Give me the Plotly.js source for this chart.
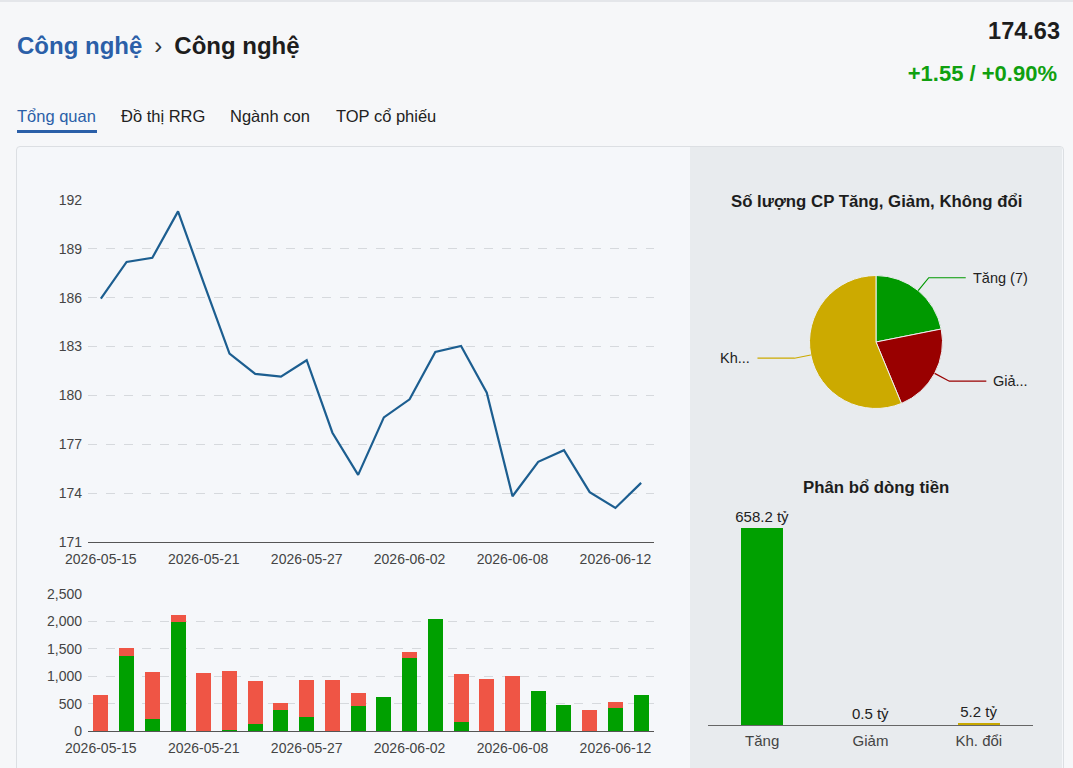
<!DOCTYPE html>
<html><head><meta charset="utf-8">
<script src="https://cdn.plot.ly/plotly-3.0.1.min.js"></script>
<style>
html,body{margin:0;padding:0;width:1073px;height:768px;overflow:hidden;background:#f6f7f9;font-family:"Liberation Sans",Arial,sans-serif;}
#topline{position:absolute;left:0;top:0;width:1073px;height:2px;background:#e4e6ea;}
#crumb{position:absolute;left:17px;top:32px;font-size:24px;font-weight:bold;white-space:nowrap;}
#crumb .a{color:#2b5fa8;} #crumb .s{color:#333;font-weight:normal;margin:0 12px 0 12px;} #crumb .b{color:#1d1d1d;}
#price{position:absolute;right:13px;top:18px;font-size:23.5px;font-weight:bold;color:#1d1d1d;}
#chg{position:absolute;right:16px;top:61px;font-size:22px;font-weight:bold;color:#10a010;}
.tab{position:absolute;top:107px;font-size:16.5px;color:#222;white-space:nowrap;}
#t1{left:17px;color:#2b5fa8;} #t2{left:121px;} #t3{left:230px;} #t4{left:336px;}
#uline{position:absolute;left:17px;top:130px;width:80px;height:3px;background:#2b5fa8;}
#box{position:absolute;left:16px;top:146px;width:1046px;height:640px;border:1px solid #dcdfe3;border-radius:4px;background:#f5f7fa;}
#right{position:absolute;left:690px;top:147px;width:372px;height:640px;background:#e8ebee;}
#plot{position:absolute;left:0;top:0;width:1073px;height:768px;}
</style></head>
<body>
<div id="topline"></div>
<div id="crumb"><span class="a">Công nghệ</span><span class="s">›</span><span class="b">Công nghệ</span></div>
<div id="price">174.63</div>
<div id="chg">+1.55 / +0.90%</div>
<div class="tab" id="t1">Tổng quan</div><div class="tab" id="t2">Đồ thị RRG</div><div class="tab" id="t3">Ngành con</div><div class="tab" id="t4">TOP cổ phiếu</div>
<div id="uline"></div>
<div id="box"></div>
<div id="right"></div>
<div id="plot"></div>
<script>
// ---- data ----
const dates = ['2026-05-15','2026-05-18','2026-05-19','2026-05-20','2026-05-21','2026-05-22','2026-05-25','2026-05-26','2026-05-27','2026-05-28','2026-05-29','2026-06-01','2026-06-02','2026-06-03','2026-06-04','2026-06-05','2026-06-08','2026-06-09','2026-06-10','2026-06-11','2026-06-12','2026-06-15'];
const indexValues = [185.95,188.2,188.45,191.3,186.9,182.57,181.32,181.15,182.16,177.71,175.12,178.65,179.76,182.67,183.04,180.17,173.81,175.92,176.64,174.06,173.09,174.63];
const volUp   = [0,1375,225,1995,0,15,128,389,249,0,462,626,1338,2050,158,0,0,730,468,0,426,663];
const volDown = [651,146,852,122,1058,1086,790,116,682,931,225,0,104,0,882,955,998,0,0,377,103,0];
const dateTicks = ['2026-05-15','2026-05-21','2026-05-27','2026-06-02','2026-06-08','2026-06-12'];
const pieLabels = ['Tăng','Giảm','Không đổi'];
const pieValues = [7,7,18];
const pieText = ['Tăng (7)','Giả...','Kh...'];
const flowCats = ['Tăng','Giảm','Kh. đổi'];
const flowValues = [658.2,0.5,5.2];

// ---- layout helpers ----
const W=1073,H=768;
const px=x=>x/W, py=y=>1-y/H;
const GREEN='#00a000', RED='#ef5545', LINE='#1c5e90';
const pieColors=['#009900','#990000','#ccaa00'];
const flowColors=['#00a000','#990000','#c8a800'];
const FF='Liberation Sans, Arial, sans-serif';
const tickFont={family:FF,size:14,color:'#444'};
const gridStyle={gridcolor:'#d6d9dd',griddash:'dash',gridwidth:1};
const xTickStyle={ticks:'outside',ticklen:4,tickcolor:'rgba(0,0,0,0)'};

const traces=[
 {type:'scatter',mode:'lines',x:dates,y:indexValues,xaxis:'x',yaxis:'y',line:{color:LINE,width:2.2},hoverinfo:'x+y'},
 {type:'bar',x:dates,y:volUp,xaxis:'x2',yaxis:'y2',marker:{color:GREEN},width:0.58},
 {type:'bar',x:dates,y:volDown,xaxis:'x2',yaxis:'y2',marker:{color:RED},width:0.58},
 {type:'pie',labels:pieLabels,values:pieValues,sort:false,direction:'clockwise',rotation:0,
  marker:{colors:pieColors,line:{color:'#eef0f2',width:1}},textinfo:'none',
  domain:{x:[px(876-66.5),px(876+66.5)],y:[py(342+66.5),py(342-66.5)]}},
 {type:'bar',x:flowCats,y:flowValues,xaxis:'x3',yaxis:'y3',marker:{color:flowColors},width:0.39,
  text:flowValues.map(v=>v+' tỷ'),textposition:'outside',cliponaxis:false,constraintext:'none',
  textfont:{family:FF,size:15,color:'#222'}}
];

// pie leader lines computed from the data
const total=pieValues.reduce((a,b)=>a+b,0);
const cx=876, cy=342, r=66.5;
const shapes=[], annotations=[];
let cum=0;
pieValues.forEach((v,i)=>{
  const th=(90-360*(cum+v/2)/total)*Math.PI/180; cum+=v;
  const c=Math.cos(th), s=Math.sin(th);
  const x0=cx+r*c, y0=cy-r*s, x1=cx+1.25*r*c, y1=cy-1.25*r*s;
  const dir=c>=0?1:-1, x2=x1+dir*37;
  shapes.push({type:'path',xref:'paper',yref:'paper',
    path:`M ${px(x0)} ${py(y0)} L ${px(x1)} ${py(y1)} L ${px(x2)} ${py(y1)}`,
    line:{color:pieColors[i],width:1.2}});
  annotations.push({xref:'paper',yref:'paper',x:px(x2+dir*5),y:py(y1),text:pieText[i],showarrow:false,
    xanchor:dir>0?'left':'right',yanchor:'middle',font:{family:FF,size:14.5,color:'#222'}});
});
annotations.push({xref:'paper',yref:'paper',x:px(876),y:py(201),text:'<b>Số lượng CP Tăng, Giảm, Không đổi</b>',showarrow:false,
  xanchor:'center',yanchor:'middle',font:{family:FF,size:16.8,color:'#1d1d1d'}});
annotations.push({xref:'paper',yref:'paper',x:px(876),y:py(487),text:'<b>Phân bổ dòng tiền</b>',showarrow:false,
  xanchor:'center',yanchor:'middle',font:{family:FF,size:16.8,color:'#1d1d1d'}});

const flowMax=Math.max(...flowValues)*1.1;
const layout={
  width:W,height:H,margin:{l:0,r:0,t:0,b:0},paper_bgcolor:'rgba(0,0,0,0)',plot_bgcolor:'rgba(0,0,0,0)',
  showlegend:false,barmode:'stack',font:{family:FF},
  xaxis:{domain:[px(88),px(654)],anchor:'y',type:'category',range:[-0.5,dates.length-0.5],tickmode:'array',tickvals:dateTicks,
    showgrid:false,showline:true,linecolor:'#555',linewidth:1.3,...xTickStyle,tickfont:tickFont},
  yaxis:{domain:[py(542),py(200)],anchor:'x',range:[171,192],dtick:3,tick0:171,...gridStyle,zeroline:false,ticks:'',tickfont:tickFont,ticklabelstandoff:5},
  xaxis2:{domain:[px(88),px(654)],anchor:'y2',type:'category',range:[-0.5,dates.length-0.5],tickmode:'array',tickvals:dateTicks,
    showgrid:false,showline:true,linecolor:'#555',linewidth:1.3,...xTickStyle,tickfont:tickFont},
  yaxis2:{domain:[py(731),py(594)],anchor:'x2',range:[0,2500],dtick:500,tickformat:',',...gridStyle,zeroline:false,ticks:'',tickfont:tickFont,ticklabelstandoff:5},
  xaxis3:{domain:[px(708),px(1033)],anchor:'y3',type:'category',showgrid:false,showline:true,linecolor:'#666',linewidth:1.3,ticks:'outside',ticklen:2,tickcolor:'rgba(0,0,0,0)',tickfont:{...tickFont,size:15}},
  yaxis3:{domain:[py(725),py(725-197*flowMax/658.2)],anchor:'x3',range:[0,flowMax],visible:false,showgrid:false},
  shapes:shapes,annotations:annotations
};
Plotly.newPlot('plot',traces,layout,{displayModeBar:false,staticPlot:true});
</script>
</body></html>
